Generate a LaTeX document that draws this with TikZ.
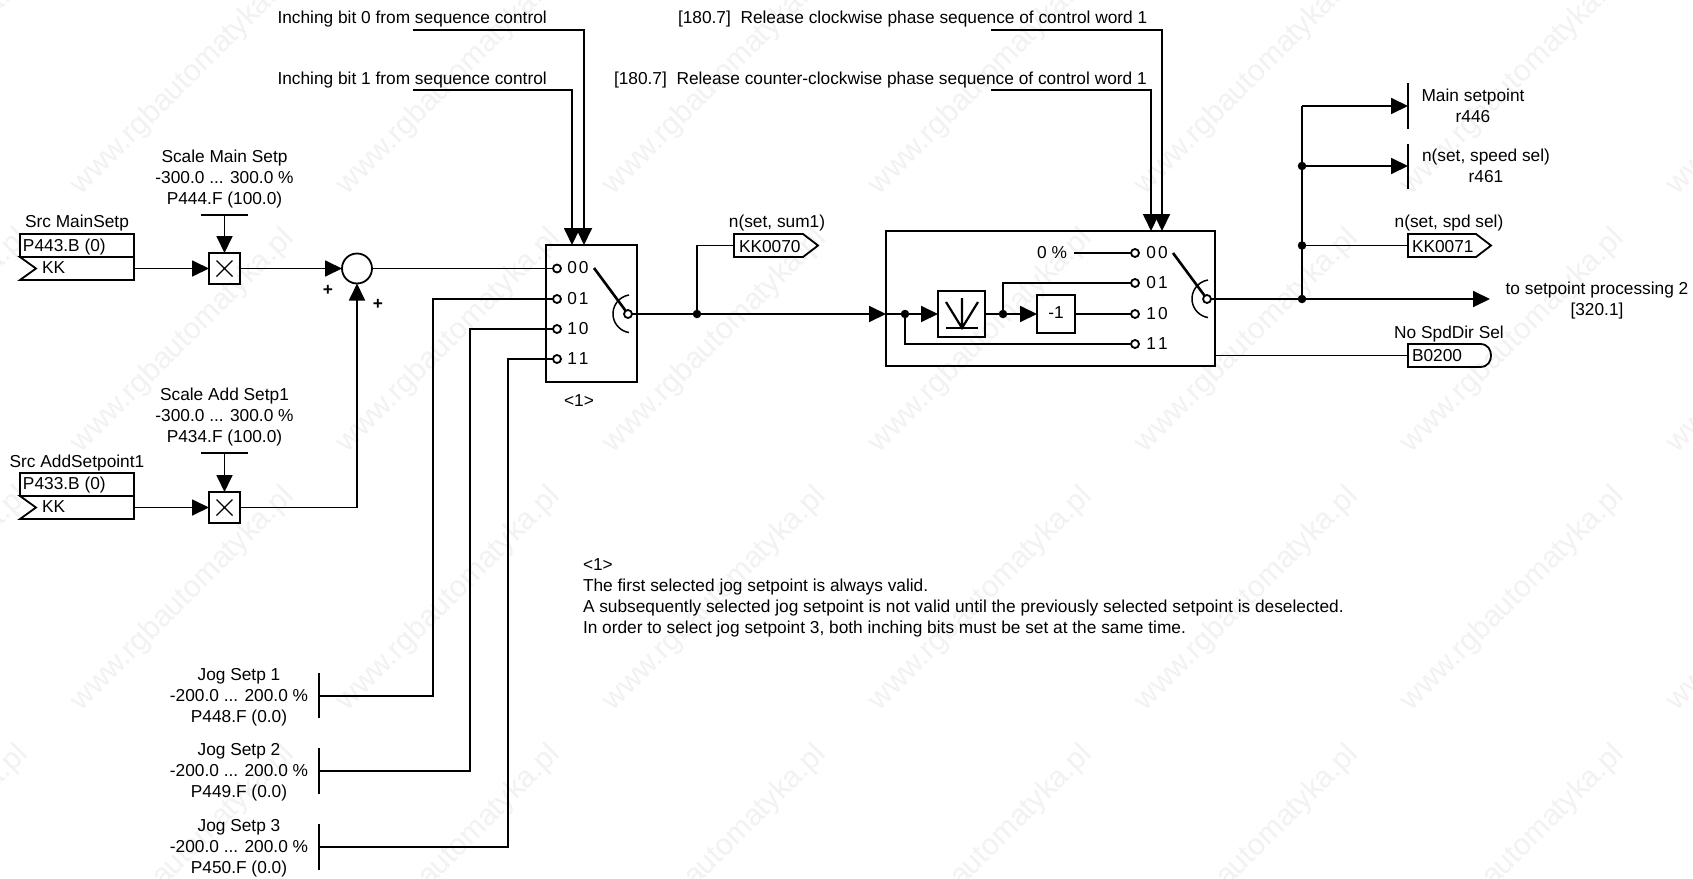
\documentclass[tikz,border=0pt]{standalone}
\usepackage{fontspec}
\setmainfont{Liberation Sans}
\usetikzlibrary{arrows.meta,calc}
\definecolor{rgbMark}{HTML}{F3F1F1}
\definecolor{rgbInk}{HTML}{000000}
\newcommand{\bitlab}[2]{#1\kern2pt#2}
\begin{document}
\begin{tikzpicture}[x=1pt,y=-1pt,>={Triangle[length=17pt,width=16pt]},line cap=butt,line join=miter]
\tikzset{wire/.style={draw=rgbInk,line width=1.8pt},thickwire/.style={draw=rgbInk,line width=2.6pt},lab/.style={inner sep=0pt,outer sep=0pt,text=rgbInk,align=center,font=\fontsize{17.3}{21}\selectfont},markText/.style={inner sep=0pt,text=rgbMark,rotate=45,font=\fontsize{30}{30}\selectfont},blockbox/.style={draw=rgbInk,line width=1.8pt,inner sep=0pt,outer sep=0pt,rectangle},term/.style={circle,draw=rgbInk,fill=white,line width=1.8pt,minimum size=8pt,inner sep=0pt,outer sep=0pt},junct/.style={circle,fill=rgbInk,minimum size=8.5pt,inner sep=0pt,outer sep=0pt},sumnode/.style={circle,draw=rgbInk,line width=1.8pt,minimum size=30pt,inner sep=0pt,outer sep=0pt}}
\useasboundingbox (0,0) rectangle (1693,878);
\path[fill=white] (0,0) rectangle (1693,878);
\begin{scope}
\clip (0,0) rectangle (1693,878);
\foreach \mx in {-83,183,449,715,981,1247,1513,1779} {\foreach \my in {83,341,599,857} {\node[markText] (mark\mx-\my) at (\mx,\my) {www.rgbautomatyka.pl};}}
\end{scope}
\node[lab,anchor=west] (inchA) at (277.5,19.5) {Inching bit 0 from sequence control};
\node[lab,anchor=west] (inchB) at (277.5,80.5) {Inching bit 1 from sequence control};
\node[lab,anchor=west] (relA) at (678,19.5) {[180.7]\ \ Release clockwise phase sequence of control word 1};
\node[lab,anchor=west] (relB) at (614,80.5) {[180.7]\ \ Release counter-clockwise phase sequence of control word 1};
\coordinate (inchAEnd) at (413,30); \coordinate (inchBEnd) at (413,90); \coordinate (relAEnd) at (991,30); \coordinate (relBEnd) at (991,90);
\node[lab] (srcMain) at (77,223) {Src MainSetp};
\node[blockbox,minimum width=114pt,minimum height=23pt] (parMain) at (77,245.5) {};
\node[lab,anchor=west] (parMainTxt) at (23,247) {P443.B (0)};
\draw[wire] (20,257) -- (134,257) -- (134,280) -- (20,280) -- (36,268.5) -- cycle;
\node[lab,anchor=west] (kkMain) at (42,268) {KK};
\coordinate (kkMainOut) at (134,268.5);
\node[lab] (srcAdd) at (77,463) {Src AddSetpoint1};
\node[blockbox,minimum width=114pt,minimum height=23pt] (parAdd) at (77,484.5) {};
\node[lab,anchor=west] (parAddTxt) at (23,485.5) {P433.B (0)};
\draw[wire] (20,496) -- (134,496) -- (134,519) -- (20,519) -- (36,507.5) -- cycle;
\node[lab,anchor=west] (kkAdd) at (42,507) {KK};
\coordinate (kkAddOut) at (134,507.5);
\node[lab] (scaleMain) at (224.5,179) {Scale Main Setp\\-300.0 ... 300.0 \%\\P444.F (100.0)};
\node[lab] (scaleAdd) at (224.5,417) {Scale Add Setp1\\-300.0 ... 300.0 \%\\P434.F (100.0)};
\draw[wire] (201,215) -- (248,215) (201,453) -- (248,453);
\coordinate (scaleMainBar) at (224.5,215); \coordinate (scaleAddBar) at (224.5,453);
\node[blockbox,minimum size=31pt] (multMain) at (224.5,268.5) {};
\node[blockbox,minimum size=31pt] (multAdd) at (224.5,507.5) {};
\draw[line width=1.3pt] (216.5,260.5) -- (232.5,276.5) (232.5,260.5) -- (216.5,276.5) (216.5,499.5) -- (232.5,515.5) (232.5,499.5) -- (216.5,515.5);
\node[sumnode] (sumA) at (357,268.5) {};
\node[lab,font=\bfseries\fontsize{17.3}{21}\selectfont] (plusA) at (328,290) {+};
\node[lab,font=\bfseries\fontsize{17.3}{21}\selectfont] (plusB) at (378,304) {+};
\draw[wire,->] (kkMainOut) -- (multMain.west);
\draw[wire,->] (kkAddOut) -- (multAdd.west);
\draw[wire,->] (scaleMainBar) -- (multMain.north);
\draw[wire,->] (scaleAddBar) -- (multAdd.north);
\draw[wire,->] (multMain.east) -- (sumA.west);
\draw[wire,->] (multAdd.east) -| (sumA.south);
\node[blockbox,minimum width=91pt,minimum height=137pt] (selA) at (591.5,313.5) {};
\coordinate (selATopA) at (584,245); \coordinate (selATopB) at (572,245);
\draw[wire,->] (inchAEnd) -| (selATopA);
\draw[wire,->] (inchBEnd) -| (selATopB);
\node[term] (selA00) at (557,268.5) {}; \node[term] (selA01) at (557,299) {}; \node[term] (selA10) at (557,329) {}; \node[term] (selA11) at (557,359) {};
\node[lab] (selA00t) at (578,268) {\bitlab00}; \node[lab] (selA01t) at (578,299) {\bitlab01}; \node[lab] (selA10t) at (578,329) {\bitlab10}; \node[lab] (selA11t) at (578,359) {\bitlab11};
\node[lab] (noteMark) at (579,401) {<1>};
\draw[thickwire] (594,268) -- (628,314);
\draw[wire,line width=1.5pt] (629,295) arc[start angle=99,end angle=261,radius=19pt];
\node[term] (selAOut) at (628,314) {};
\draw[wire] (sumA.east) -- (selA00);
\node[lab] (jogA) at (239,697) {Jog Setp 1\\-200.0 ... 200.0 \%\\P448.F (0.0)};
\node[lab] (jogB) at (239,772) {Jog Setp 2\\-200.0 ... 200.0 \%\\P449.F (0.0)};
\node[lab] (jogC) at (239,848) {Jog Setp 3\\-200.0 ... 200.0 \%\\P450.F (0.0)};
\draw[wire] (319,673) -- (319,718) (319,748) -- (319,794) (319,824) -- (319,870);
\coordinate (jogABar) at (319,696); \coordinate (jogBBar) at (319,771); \coordinate (jogCBar) at (319,847);
\coordinate (jogARise) at (433,299); \coordinate (jogBRise) at (470,329); \coordinate (jogCRise) at (508,359);
\draw[wire] (jogABar) -| (jogARise) -- (selA01);
\draw[wire] (jogBBar) -| (jogBRise) -- (selA10);
\draw[wire] (jogCBar) -| (jogCRise) -- (selA11);
\node[junct] (dotSum) at (697,314) {};
\node[lab] (sumLab) at (777,223) {n(set, sum1)};
\draw[wire] (734,234) -- (803,234) -- (818,245.5) -- (803,257) -- (734,257) -- cycle;
\node[lab,anchor=west] (kkSum) at (739,246.5) {KK0070};
\coordinate (kkSumIn) at (734,245.5);
\draw[wire] (dotSum) |- (kkSumIn);
\node[blockbox,minimum width=329pt,minimum height=135pt] (selB) at (1050.5,298.5) {};
\coordinate (selBIn) at (886,314);
\draw[wire,->] (selAOut) -- (selBIn);
\coordinate (selBTopA) at (1162,231); \coordinate (selBTopB) at (1151,231);
\draw[wire,->] (relAEnd) -| (selBTopA);
\draw[wire,->] (relBEnd) -| (selBTopB);
\node[junct] (dotIn) at (905,314) {};
\node[blockbox,minimum width=47pt,minimum height=46pt] (limit) at (961.5,314) {};
\draw[line width=2.2pt] (946,302) -- (962,328) -- (978,302) (962,298) -- (962,328);
\draw[line width=1.3pt] (946,328) -- (978,328);
\draw[wire] (selBIn) -- (dotIn);
\draw[wire,->] (dotIn) -- (limit.west);
\node[junct] (dotLimit) at (1003,314) {};
\draw[wire] (limit.east) -- (dotLimit);
\node[blockbox,minimum size=38pt] (negate) at (1056,314) {};
\node[lab] (negateTxt) at (1056,313) {-1};
\draw[wire,->] (dotLimit) -- (negate.west);
\node[term] (selB00) at (1135,253) {}; \node[term] (selB01) at (1135,283) {}; \node[term] (selB10) at (1135,314) {}; \node[term] (selB11) at (1135,344) {};
\node[lab] (selB00t) at (1157,253) {\bitlab00}; \node[lab] (selB01t) at (1157,283) {\bitlab01}; \node[lab] (selB10t) at (1157,314) {\bitlab10}; \node[lab] (selB11t) at (1157,344) {\bitlab11};
\node[lab] (zeroPct) at (1052,253) {0 \%};
\coordinate (zeroPctEnd) at (1074,253);
\draw[wire] (zeroPctEnd) -- (selB00);
\draw[wire] (dotLimit) |- (selB01);
\draw[wire] (negate.east) -- (selB10);
\draw[wire] (dotIn) |- (selB11);
\draw[thickwire] (1173,253) -- (1207,299);
\draw[wire,line width=1.5pt] (1208,280) arc[start angle=99,end angle=261,radius=19pt];
\node[term] (selBOut) at (1207,299) {};
\node[junct] (dotBusTop) at (1302,299) {};
\node[junct] (dotBusKK) at (1302,245.5) {};
\node[junct] (dotBusSel) at (1302,166) {};
\draw[wire] (selBOut) -- (dotBusTop);
\coordinate (busTop) at (1302,106); \coordinate (mainBar) at (1408,106); \coordinate (speedBar) at (1408,166); \coordinate (kkSelIn) at (1408,245.5); \coordinate (procEnd) at (1490,299); \coordinate (noDirIn) at (1408,355.5); \coordinate (selBSide) at (1215,355.5);
\draw[wire] (dotBusTop) -- (busTop);
\draw[wire,->] (busTop) -- (mainBar);
\draw[wire,->] (dotBusSel) -- (speedBar);
\draw[wire] (dotBusKK) -- (kkSelIn);
\draw[wire,->] (dotBusTop) -- (procEnd);
\draw[wire] (selBSide) -- (noDirIn);
\draw[wire] (1408,83) -- (1408,129) (1408,144) -- (1408,189);
\node[lab] (mainLab) at (1473,105.5) {Main setpoint\\r446};
\node[lab] (speedLab) at (1486,165.5) {n(set, speed sel)\\r461};
\node[lab] (spdLab) at (1449,223) {n(set, spd sel)};
\draw[wire] (1408,234) -- (1476,234) -- (1491,245.5) -- (1476,257) -- (1408,257) -- cycle;
\node[lab,anchor=west] (kkSel) at (1412,246.5) {KK0071};
\node[lab] (procLab) at (1597,301) {to setpoint processing 2\\{}[320.1]};
\node[lab] (noDirLab) at (1449,334) {No SpdDir Sel};
\draw[wire] (1408,344) -- (1480,344) .. controls (1488,344) and (1491,350) .. (1491,355.5) .. controls (1491,361) and (1488,367) .. (1480,367) -- (1408,367) -- cycle;
\node[lab,anchor=west] (bitDir) at (1412,356) {B0200};
\node[lab,anchor=west,align=left] (noteTxt) at (583,597.5) {<1>\\The first selected jog setpoint is always valid.\\A subsequently selected jog setpoint is not valid until the previously selected setpoint is deselected.\\In order to select jog setpoint 3, both inching bits must be set at the same time.};
\end{tikzpicture}
\end{document}
